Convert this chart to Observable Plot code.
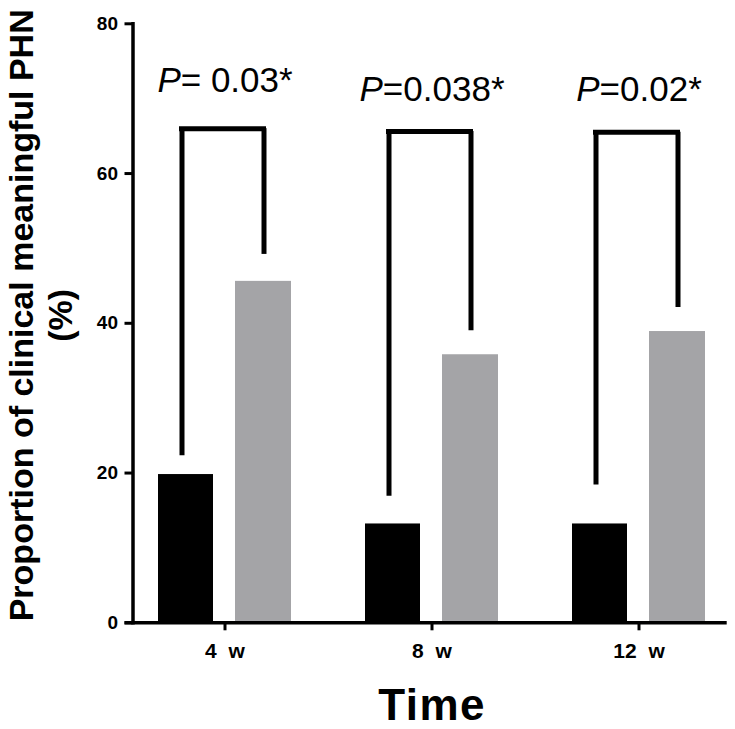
<!DOCTYPE html>
<html><head><meta charset="utf-8">
<script src="https://cdn.jsdelivr.net/npm/d3@7"></script>
<script src="https://cdn.jsdelivr.net/npm/@observablehq/plot@0.6"></script>
<style>body{margin:0;background:#fff}</style>
</head><body><div id="chart"></div>
<script>
const times = ["4 w", "8 w", "12 w"];
const groupA = [19.8, 13.2, 13.2];   // black bars
const groupB = [45.6, 35.8, 38.9];   // gray bars
const bracketTop = [66.0, 65.6, 65.5];
const legA = [22.3, 16.9, 18.4];
const legB = [49.2, 39.0, 42.1];
const pLabels = ["P= 0.03*", "P=0.038*", "P=0.02*"];
const pLabelLevel = [70.9, 69.7, 69.7];
const yTicks = [0, 20, 40, 60, 80];
const yTitle = "Proportion of clinical meaningful PHN\n(%)";
const xTitle = "Time";

const rows = times.map((t, i) => ({
  time: t, a: groupA[i], b: groupB[i], top: bracketTop[i],
  legA: legA[i], legB: legB[i], label: pLabels[i], level: pLabelLevel[i]
}));

const plot = Plot.plot({
  width: 735, height: 729,
  marginLeft: 132.5, marginRight: 8.3, marginTop: 23.3, marginBottom: 106.7,
  style: {fontFamily: "'Liberation Sans', Arial, Helvetica, sans-serif", background: "#fff", color: "#000", overflow: "visible"},
  x: {domain: times, paddingInner: 0.358, paddingOuter: 0.113, align: 0.54, label: null},
  y: {domain: [0, 80], label: null},
  marks: [
    Plot.barY(rows, {x: "time", y: "a", fill: "#000", insetRight: 78}),
    Plot.barY(rows, {x: "time", y: "b", fill: "#a4a4a7", insetLeft: 77}),
    Plot.ruleX(rows, {x: "time", y1: "legA", y2: "top", dx: -43, stroke: "#000", strokeWidth: 5}),
    Plot.ruleX(rows, {x: "time", y1: "legB", y2: "top", dx: 39, stroke: "#000", strokeWidth: 5}),
    Plot.ruleY(rows, {x1: "time", x2: "time", y: "top", insetLeft: 21, insetRight: 25, stroke: "#000", strokeWidth: 5}),
    Plot.text(rows, {x: "time", y: "level", text: "label", fontSize: 35, lineAnchor: "bottom", fill: "#000"}),
    Plot.ruleY([0], {strokeWidth: 3.5, insetLeft: -8, stroke: "#000"}),
    Plot.frame({anchor: "left", strokeWidth: 3.5, stroke: "#000"}),
    Plot.axisY({ticks: yTicks, tickSize: 8, tickPadding: 7, strokeWidth: 3, fontSize: 19, fontWeight: "bold", label: null, tickFormat: d => String(d)}),
    Plot.axisX({tickSize: 8, tickPadding: 12, strokeWidth: 3, fontSize: 21, fontWeight: "bold", label: null}),
    Plot.text([yTitle], {text: d => d, frameAnchor: "left", rotate: -90, dx: -93, dy: -8, fontSize: 34, fontWeight: "bold", lineHeight: 1.15, textAnchor: "middle", fill: "#000"}),
    Plot.text([xTitle], {text: d => d, frameAnchor: "bottom", lineAnchor: "bottom", dy: 97.5, dx: 2, fontSize: 44, fontWeight: "bold", fill: "#000"})
  ]
});

const ns = "http://www.w3.org/2000/svg";
const yTickText = new Set(yTicks.map(String));
d3.select(plot).selectAll("text").each(function () {
  const t = this.textContent;
  if (pLabels.includes(t)) {
    this.textContent = "";
    const a = document.createElementNS(ns, "tspan");
    a.setAttribute("font-style", "italic");
    a.textContent = t.slice(0, 1);
    const b = document.createElementNS(ns, "tspan");
    b.textContent = t.slice(1);
    this.appendChild(a); this.appendChild(b);
  } else if (times.includes(t)) {
    this.style.fontSize = "21px";
    this.style.fontWeight = "bold";
    this.style.wordSpacing = "6px";
  } else if (yTickText.has(t)) {
    this.style.fontSize = "19px";
    this.style.fontWeight = "bold";
  } else if (t === xTitle) {
    this.style.letterSpacing = "1.5px";
  }
});
document.getElementById("chart").appendChild(plot);
</script>
</body></html>
